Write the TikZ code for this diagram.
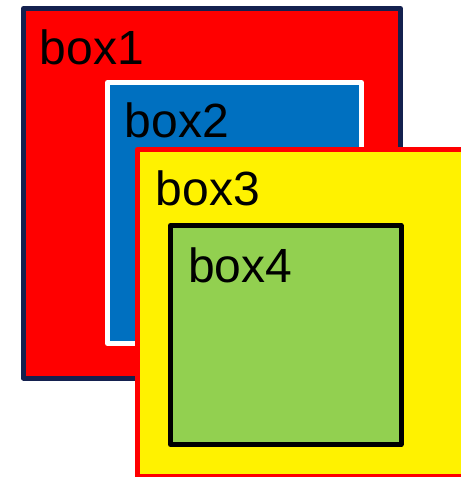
\documentclass[tikz,border=0pt]{standalone}
\usepackage{fontspec}
\setmainfont{Liberation Sans}
\usetikzlibrary{positioning}

\definecolor{navyline}{HTML}{14214F}
\definecolor{boxblue}{HTML}{0070C0}
\definecolor{boxgreen}{HTML}{92D050}

\tikzset{
  box/.style={line width=3.75pt, line join=round},
  lbl/.style={inner sep=0pt, anchor=base west, font=\fontsize{36}{40}\selectfont},
}

\begin{document}
\begin{tikzpicture}[x=0.75pt,y=-0.75pt]
  \useasboundingbox (0,0) rectangle (460,477);
  % outer boxes
  \draw[box, draw=navyline, fill=red] (23.5,8.5) rectangle (400.5,378);
  \draw[box, draw=white, fill=boxblue] (107.5,82.5) rectangle (361.5,343.5);
  \draw[box, draw=red, fill=yellow] (137.5,149.5) rectangle (465,476);
  \draw[box, draw=black, fill=boxgreen] (170.5,225.5) rectangle (401,444.5);
  % labels
  \node[lbl] (lbl1) at (39.5,65) {box1};
  \node[lbl] (lbl2) at (124.5,138) {box2};
  \node[lbl] (lbl3) at (155.5,205) {box3};
  \node[lbl] (lbl4) at (188,282.7) {box4};
\end{tikzpicture}
\end{document}
